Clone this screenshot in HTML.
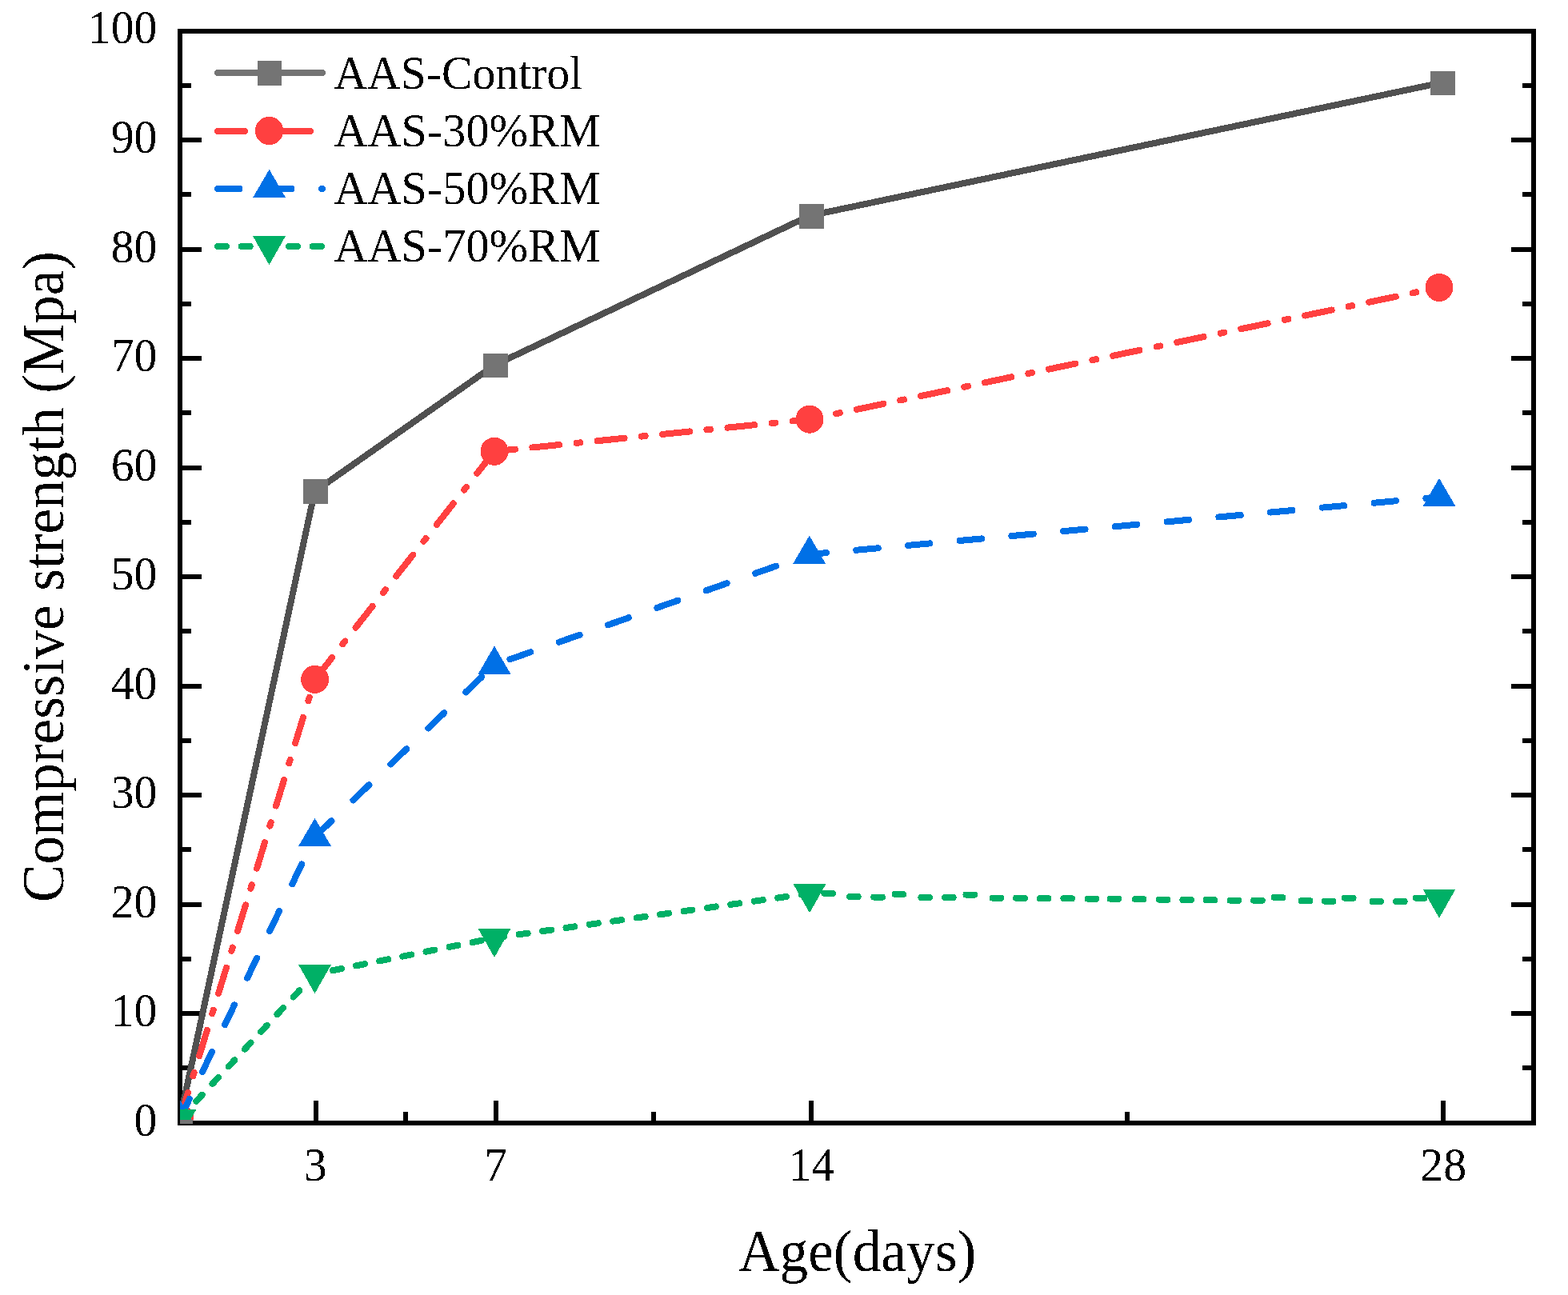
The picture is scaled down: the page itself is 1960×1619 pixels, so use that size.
<!DOCTYPE html>
<html lang="en">
<head>
<meta charset="utf-8">
<title>Compressive strength vs Age</title>
<style>
html,body{margin:0;padding:0;background:#ffffff;}
body{width:1960px;height:1619px;overflow:hidden;font-family:"Liberation Serif", serif;}
svg{display:block;}
</style>
</head>
<body>
<svg width="1960" height="1619" viewBox="0 0 1960 1619" role="img" aria-label="Compressive strength versus age">
<rect x="0" y="0" width="1960" height="1619" fill="#ffffff"/>
<defs><clipPath id="plotclip"><rect x="225" y="36" width="1695" height="1364.6"/></clipPath><filter id="hard" filterUnits="userSpaceOnUse" x="0" y="0" width="1960" height="1619" color-interpolation-filters="sRGB"><feComponentTransfer><feFuncA type="discrete" tableValues="0 0 0 0 0 1 1 1 1 1"/></feComponentTransfer></filter></defs>
<g id="axes" stroke="#000" stroke-width="6" fill="none" stroke-linecap="butt" shape-rendering="crispEdges">
<rect x="225.0" y="39.0" width="1692.0" height="1365.0"/>
<line x1="225.0" y1="1335.00" x2="239.0" y2="1335.00"/>
<line x1="1917.0" y1="1335.00" x2="1903.0" y2="1335.00"/>
<line x1="225.0" y1="1267.00" x2="252.0" y2="1267.00"/>
<line x1="1917.0" y1="1267.00" x2="1889.0" y2="1267.00"/>
<line x1="225.0" y1="1199.00" x2="239.0" y2="1199.00"/>
<line x1="1917.0" y1="1199.00" x2="1903.0" y2="1199.00"/>
<line x1="225.0" y1="1131.00" x2="252.0" y2="1131.00"/>
<line x1="1917.0" y1="1131.00" x2="1889.0" y2="1131.00"/>
<line x1="225.0" y1="1062.00" x2="239.0" y2="1062.00"/>
<line x1="1917.0" y1="1062.00" x2="1903.0" y2="1062.00"/>
<line x1="225.0" y1="994.00" x2="252.0" y2="994.00"/>
<line x1="1917.0" y1="994.00" x2="1889.0" y2="994.00"/>
<line x1="225.0" y1="926.00" x2="239.0" y2="926.00"/>
<line x1="1917.0" y1="926.00" x2="1903.0" y2="926.00"/>
<line x1="225.0" y1="858.00" x2="252.0" y2="858.00"/>
<line x1="1917.0" y1="858.00" x2="1889.0" y2="858.00"/>
<line x1="225.0" y1="789.00" x2="239.0" y2="789.00"/>
<line x1="1917.0" y1="789.00" x2="1903.0" y2="789.00"/>
<line x1="225.0" y1="721.00" x2="252.0" y2="721.00"/>
<line x1="1917.0" y1="721.00" x2="1889.0" y2="721.00"/>
<line x1="225.0" y1="653.00" x2="239.0" y2="653.00"/>
<line x1="1917.0" y1="653.00" x2="1903.0" y2="653.00"/>
<line x1="225.0" y1="585.00" x2="252.0" y2="585.00"/>
<line x1="1917.0" y1="585.00" x2="1889.0" y2="585.00"/>
<line x1="225.0" y1="516.00" x2="239.0" y2="516.00"/>
<line x1="1917.0" y1="516.00" x2="1903.0" y2="516.00"/>
<line x1="225.0" y1="448.00" x2="252.0" y2="448.00"/>
<line x1="1917.0" y1="448.00" x2="1889.0" y2="448.00"/>
<line x1="225.0" y1="380.00" x2="239.0" y2="380.00"/>
<line x1="1917.0" y1="380.00" x2="1903.0" y2="380.00"/>
<line x1="225.0" y1="312.00" x2="252.0" y2="312.00"/>
<line x1="1917.0" y1="312.00" x2="1889.0" y2="312.00"/>
<line x1="225.0" y1="243.00" x2="239.0" y2="243.00"/>
<line x1="1917.0" y1="243.00" x2="1903.0" y2="243.00"/>
<line x1="225.0" y1="175.00" x2="252.0" y2="175.00"/>
<line x1="1917.0" y1="175.00" x2="1889.0" y2="175.00"/>
<line x1="225.0" y1="107.00" x2="239.0" y2="107.00"/>
<line x1="1917.0" y1="107.00" x2="1903.0" y2="107.00"/>
<line x1="395.00" y1="1404.0" x2="395.00" y2="1376.0"/>
<line x1="620.00" y1="1404.0" x2="620.00" y2="1376.0"/>
<line x1="1014.00" y1="1404.0" x2="1014.00" y2="1376.0"/>
<line x1="1804.00" y1="1404.0" x2="1804.00" y2="1376.0"/>
<line x1="507.00" y1="1404.0" x2="507.00" y2="1390.0"/>
<line x1="817.00" y1="1404.0" x2="817.00" y2="1390.0"/>
<line x1="1409.00" y1="1404.0" x2="1409.00" y2="1390.0"/>
</g>
<g id="series" clip-path="url(#plotclip)" fill="none" shape-rendering="crispEdges">
<polyline points="225.00,1398.50 393.30,614.50 618.00,456.60 1012.00,269.70 1799.00,104.00" stroke="#505050" stroke-width="8" stroke-linejoin="round"/>
<rect x="210.20" y="1389.20" width="30.6" height="30.6" fill="#747474"/>
<rect x="379.20" y="599.20" width="30.6" height="30.6" fill="#747474"/>
<rect x="604.20" y="441.70" width="30.6" height="30.6" fill="#747474"/>
<rect x="999.20" y="255.10" width="30.6" height="30.6" fill="#747474"/>
<rect x="1788.30" y="88.70" width="30.6" height="30.6" fill="#747474"/>
<g stroke="#FF4040" stroke-width="8" stroke-linecap="round" stroke-dasharray="34 21.55 4.7 21.55"><line x1="225.00" y1="1398.50" x2="393.60" y2="849.40" stroke-dashoffset="-0.00"/><line x1="393.60" y1="849.40" x2="618.00" y2="564.30" stroke-dashoffset="-0.60"/><line x1="618.00" y1="564.30" x2="1012.00" y2="524.20" stroke-dashoffset="-47.60"/><line x1="1012.00" y1="524.20" x2="1799.00" y2="359.40" stroke-dashoffset="-60.20"/></g>
<line x1="618" y1="564.3" x2="639.5" y2="562.1" stroke="#FF4040" stroke-width="8"/>
<circle cx="225.00" cy="1398.50" r="17.5" fill="#FF4040"/>
<circle cx="393.60" cy="849.40" r="17.5" fill="#FF4040"/>
<circle cx="618.00" cy="564.30" r="17.5" fill="#FF4040"/>
<circle cx="1012.00" cy="524.20" r="17.5" fill="#FF4040"/>
<circle cx="1799.00" cy="359.40" r="17.5" fill="#FF4040"/>
<g stroke="#0070E6" stroke-width="8" stroke-linecap="round" stroke-dasharray="27.5 37.5"><line x1="225.00" y1="1398.50" x2="393.50" y2="1046.30" stroke-dashoffset="-0.00"/><line x1="393.50" y1="1046.30" x2="618.00" y2="831.10" stroke-dashoffset="-1.50"/><line x1="618.00" y1="831.10" x2="1011.70" y2="693.10" stroke-dashoffset="-20.50"/><line x1="1011.70" y1="693.10" x2="1799.00" y2="621.30" stroke-dashoffset="-58.80"/></g>
<polygon points="225.00,1375.03 245.50,1410.23 204.50,1410.23" fill="#0070E6"/>
<polygon points="393.50,1022.83 414.00,1058.03 373.00,1058.03" fill="#0070E6"/>
<polygon points="618.00,807.63 638.50,842.83 597.50,842.83" fill="#0070E6"/>
<polygon points="1011.70,669.63 1032.20,704.83 991.20,704.83" fill="#0070E6"/>
<polygon points="1799.00,597.83 1819.50,633.03 1778.50,633.03" fill="#0070E6"/>
<g stroke="#00B066" stroke-width="8" stroke-linecap="round" stroke-dasharray="11 18.7"><line x1="225.00" y1="1398.50" x2="385.32" y2="1226.48" stroke-dashoffset="-0.00"/><line x1="393.50" y1="1217.70" x2="618.00" y2="1172.60" stroke-dashoffset="-23.00"/><line x1="618.00" y1="1172.60" x2="1012.00" y2="1116.90" stroke-dashoffset="-1.30"/></g>
<g stroke="#00B066" stroke-width="8" stroke-linecap="round"><line x1="1030.4" y1="1116.85" x2="1041.0" y2="1116.95"/><line x1="1062.0" y1="1120.95" x2="1072.6" y2="1121.05"/><line x1="1092.3" y1="1121.55" x2="1102.9" y2="1121.65"/><line x1="1118.6" y1="1117.95" x2="1129.2" y2="1118.05"/><line x1="1151.4" y1="1121.95" x2="1162.0" y2="1122.05"/><line x1="1181.0" y1="1121.95" x2="1191.6" y2="1122.05"/><line x1="1207.4" y1="1118.55" x2="1218.0" y2="1118.65"/><line x1="1240.6" y1="1122.65" x2="1251.2" y2="1122.75"/><line x1="1270.2" y1="1122.65" x2="1280.8" y2="1122.75"/><line x1="1299.8" y1="1123.25" x2="1310.4" y2="1123.35"/><line x1="1329.4" y1="1123.25" x2="1340.0" y2="1123.35"/><line x1="1359.6" y1="1123.65" x2="1370.2" y2="1123.75"/><line x1="1387.6" y1="1123.65" x2="1398.2" y2="1123.75"/><line x1="1418.8" y1="1124.05" x2="1429.4" y2="1124.15"/><line x1="1448.8" y1="1124.65" x2="1459.4" y2="1124.75"/><line x1="1478.4" y1="1125.05" x2="1489.0" y2="1125.15"/><line x1="1507.6" y1="1125.05" x2="1518.2" y2="1125.15"/><line x1="1537.6" y1="1125.65" x2="1548.2" y2="1125.75"/><line x1="1567.1" y1="1125.65" x2="1577.7" y2="1125.75"/><line x1="1592.7" y1="1121.95" x2="1603.3" y2="1122.05"/><line x1="1626.7" y1="1126.05" x2="1637.3" y2="1126.15"/><line x1="1655.9" y1="1126.65" x2="1666.5" y2="1126.75"/><line x1="1681.0" y1="1122.65" x2="1691.6" y2="1122.75"/><line x1="1715.5" y1="1127.05" x2="1726.1" y2="1127.15"/><line x1="1745.1" y1="1127.05" x2="1755.7" y2="1127.15"/><line x1="1769.8" y1="1122.65" x2="1780.4" y2="1122.75"/></g>
<polygon points="225.00,1422.87 245.50,1386.77 204.50,1386.77" fill="#00B066"/>
<polygon points="393.50,1242.07 414.00,1205.97 373.00,1205.97" fill="#00B066"/>
<polygon points="618.00,1196.97 638.50,1160.87 597.50,1160.87" fill="#00B066"/>
<polygon points="1012.00,1141.27 1032.50,1105.17 991.50,1105.17" fill="#00B066"/>
<polygon points="1799.00,1147.77 1819.50,1111.67 1778.50,1111.67" fill="#00B066"/>
</g>
<rect x="225" y="1400" width="16" height="5" fill="#747474"/>
<g id="legend" fill="none" shape-rendering="crispEdges">
<line x1="272.0" y1="91" x2="403.0" y2="91" stroke="#747474" stroke-width="8" stroke-linecap="round"/>
<rect x="321.70" y="76.10" width="30.6" height="30.6" fill="#747474"/>
<line x1="272.0" y1="164" x2="403.0" y2="164" stroke="#FF4040" stroke-width="8" stroke-linecap="round" stroke-dasharray="34 21.55 4.7 21.55"/>
<circle cx="336.50" cy="163.50" r="17.7" fill="#FF4040"/>
<line x1="272.0" y1="236.1" x2="403.0" y2="236.1" stroke="#0070E6" stroke-width="8" stroke-linecap="round" stroke-dasharray="27.5 37.5"/>
<polygon points="336.60,211.83 357.10,247.03 316.10,247.03" fill="#0070E6"/>
<line x1="272.0" y1="308" x2="403.0" y2="308" stroke="#00B066" stroke-width="8" stroke-linecap="round" stroke-dasharray="11 18.7"/>
<polygon points="336.50,331.17 357.00,295.07 316.00,295.07" fill="#00B066"/>
</g>
<g id="labels" font-family='"Liberation Serif", serif' fill="#000" filter="url(#hard)">
<text transform="translate(417.43 110.90) scale(1 1.0354)" font-size="57.66" text-anchor="start">AAS-Control</text>
<text transform="translate(417.43 183.10) scale(1 1.0251)" font-size="58.24" text-anchor="start">AAS-30%RM</text>
<text transform="translate(417.43 255.20) scale(1 1.0251)" font-size="58.24" text-anchor="start">AAS-50%RM</text>
<text transform="translate(417.43 327.30) scale(1 1.0251)" font-size="58.24" text-anchor="start">AAS-70%RM</text>
<text transform="translate(196.40 1419.50) scale(1 1.0400)" font-size="57.7" text-anchor="end">0</text>
<text transform="translate(196.40 1283.00) scale(1 1.0400)" font-size="57.7" text-anchor="end">10</text>
<text transform="translate(196.40 1146.50) scale(1 1.0400)" font-size="57.7" text-anchor="end">20</text>
<text transform="translate(196.40 1010.00) scale(1 1.0400)" font-size="57.7" text-anchor="end">30</text>
<text transform="translate(196.40 873.50) scale(1 1.0400)" font-size="57.7" text-anchor="end">40</text>
<text transform="translate(196.40 737.00) scale(1 1.0400)" font-size="57.7" text-anchor="end">50</text>
<text transform="translate(196.40 600.50) scale(1 1.0400)" font-size="57.7" text-anchor="end">60</text>
<text transform="translate(196.40 464.00) scale(1 1.0400)" font-size="57.7" text-anchor="end">70</text>
<text transform="translate(196.40 328.00) scale(1 1.0400)" font-size="57.7" text-anchor="end">80</text>
<text transform="translate(196.40 191.00) scale(1 1.0400)" font-size="57.7" text-anchor="end">90</text>
<text transform="translate(196.40 54.10) scale(1 1.0400)" font-size="57.7" text-anchor="end">100</text>
<text transform="translate(394.20 1476.20) scale(1 1.0400)" font-size="57.7" text-anchor="middle">3</text>
<text transform="translate(619.80 1476.20) scale(1 1.0400)" font-size="57.7" text-anchor="middle">7</text>
<text transform="translate(1014.60 1476.20) scale(1 1.0400)" font-size="57.7" text-anchor="middle">14</text>
<text transform="translate(1804.20 1476.20) scale(1 1.0400)" font-size="57.7" text-anchor="middle">28</text>
<text transform="translate(1071.60 1589.00) scale(1 1.0250)" font-size="71.4" text-anchor="middle">Age(days)</text>
<text transform="translate(79.00 721.00) rotate(-90) scale(1 1.0300)" font-size="71.15" text-anchor="middle">Compressive strength (Mpa)</text>
</g>
</svg>
</body>
</html>
